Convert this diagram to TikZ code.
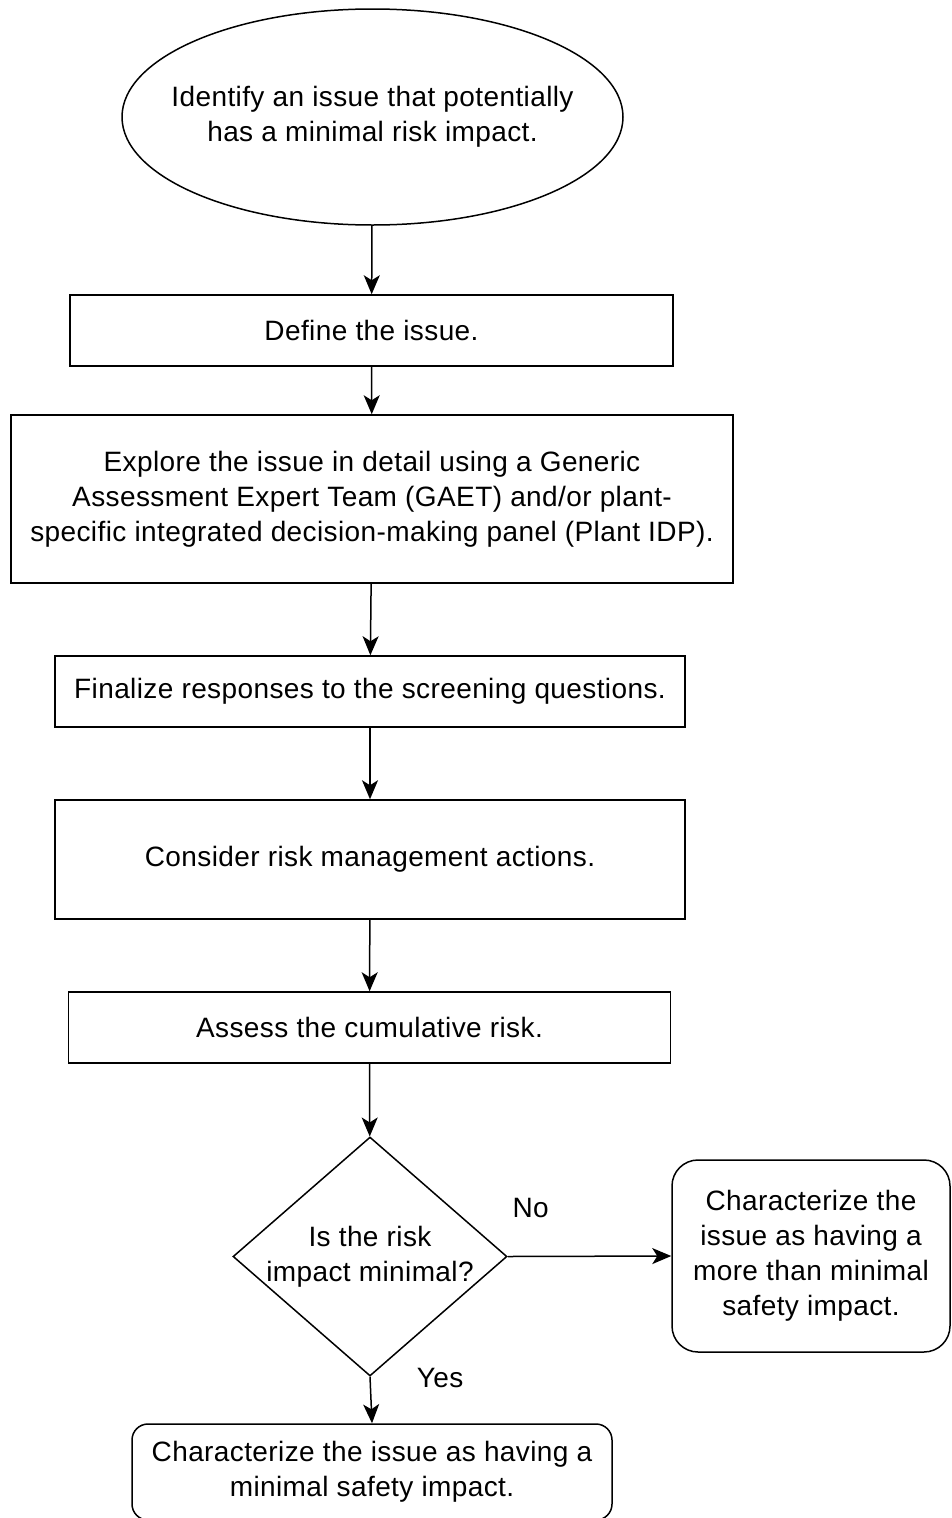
\documentclass[tikz,border=0pt]{standalone}
\usepackage{fontspec}
\setmainfont{Liberation Sans}[LetterSpace=1.4]
\usetikzlibrary{shapes.geometric,arrows.meta}
\tikzset{
  stepbox/.style={draw, line width=1.5pt, inner sep=0pt, align=center},
  startnode/.style={draw, line width=1.5pt, ellipse, inner sep=0pt},
  decision/.style={draw, line width=1.5pt, diamond, inner sep=0pt},
  endbox/.style={stepbox, rounded corners=#1},
  flow/.style={line width=1.5pt, -{Stealth[length=19pt,width=16pt,inset=5pt]}},
}

\begin{document}
\begin{tikzpicture}[x=1pt, y=-1pt, font=\fontsize{28}{35}\selectfont]
  \useasboundingbox (0,0) rectangle (952,1518);
  % flow of steps
  \node[startnode, minimum width=501pt, minimum height=216pt] (identify) at (372.5,117) {};
  \node[align=center] (identifytext) at (identify)
    {Identify an issue that potentially\\has a minimal risk impact.};
  \node[stepbox, minimum width=603pt, minimum height=71pt] (define) at (371.5,330.5)
    {Define the issue.};
  \node[stepbox, minimum width=722pt, minimum height=168pt] (explore) at (372,499)
    {Explore the issue in detail using a Generic\\Assessment Expert Team (GAET) and/or plant-\\specific integrated decision-making panel (Plant IDP).};
  \node[stepbox, minimum width=630pt, minimum height=71pt] (finalize) at (370,691.5)
    {Finalize responses to the screening questions.};
  \node[stepbox, minimum width=630pt, minimum height=119pt] (consider) at (370,859.5)
    {Consider risk management actions.};
  \node[stepbox, minimum width=602pt, minimum height=71pt] (assess) at (369.5,1027.5)
    {Assess the cumulative risk.};
  \node[decision, minimum width=274pt, minimum height=239pt] (riskq) at (370,1256.5) {};
  \node[align=center] (riskqtext) at (riskq) {Is the risk\\impact minimal?};
  \node[endbox=26pt, minimum width=278pt, minimum height=192pt] (morethan) at (811,1256)
    {Characterize the\\issue as having a\\more than minimal\\safety impact.};
  \node[endbox=16pt, minimum width=480pt, minimum height=96pt] (minimal) at (372,1472)
    {Characterize the issue as having a\\minimal safety impact.};

  \draw[flow] (identify) -- (define);
  \draw[flow] (define) -- (explore);
  \draw[flow] (explore) -- (finalize);
  \draw[flow] (finalize) -- (consider);
  \draw[flow] (consider) -- (assess);
  \draw[flow] (assess) -- (riskq);
  \draw[flow] (riskq.east) -- node[pos=0.14, yshift=48pt] (nolabel) {No} (morethan.west);
  \draw[flow] (riskq.south) -- node[pos=0.02, xshift=70pt] (yeslabel) {Yes} (minimal.north);
\end{tikzpicture}
\end{document}
